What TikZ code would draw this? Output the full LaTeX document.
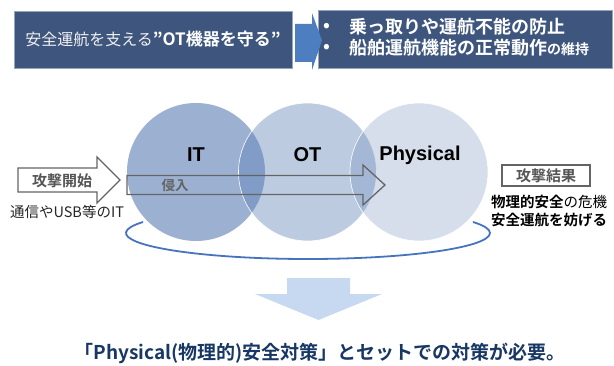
\documentclass[tikz,border=0pt]{standalone}
\usepackage{fontspec}
\setmainfont{Noto Sans CJK JP}[BoldFont={Noto Sans CJK JP Bold}]
\newfontfamily\labfont{Liberation Sans}
\definecolor{boxfill}{RGB}{62,86,126}
\definecolor{boxline}{RGB}{150,165,190}
\definecolor{arrowblue}{RGB}{76,126,192}
\definecolor{circblue}{RGB}{90,125,180}
\definecolor{outl}{RGB}{100,100,100}
\definecolor{txtgray}{RGB}{85,85,85}
\definecolor{arcblue}{RGB}{70,115,190}
\definecolor{downblue}{RGB}{198,217,240}
\definecolor{navy}{RGB}{23,55,100}
\begin{document}
\begin{tikzpicture}[x=1pt,y=1pt,
  topbox/.style={draw=boxline, fill=boxfill, line width=0.8pt, inner sep=0pt},
  circ/.style={circle, minimum size=138pt, inner sep=0pt, fill=circblue},
  hollow/.style={draw=outl, line width=1.3pt, line join=miter},
  circlabel/.style={font=\labfont\bfseries\fontsize{20}{22}\selectfont, text=black},
  graytxt/.style={text=txtgray, font=\bfseries\fontsize{15}{18}\selectfont}]
\useasboundingbox (0,0) rectangle (614,365);

% top boxes
\node[topbox, minimum width=278pt, minimum height=57pt] (goal) at (153,325.5)
  {{\fontsize{16}{18}\selectfont\color{white!88!gray}安全運航を支える}{\bfseries\fontsize{17}{18}\selectfont\color{white}”OT機器を守る”}};
\node[topbox, minimum width=294pt, minimum height=58pt] (aims) at (465,326) {};
\fill[arrowblue] (295,341) -- (312,341) -- (312,352) -- (322,324.5) -- (312,295) -- (312,303) -- (295,303) -- cycle;
\node[anchor=west, text=white, font=\bfseries\fontsize{18}{20}\selectfont, inner sep=0pt] (b1) at (323,338) {•};
\node[anchor=west, text=white, font=\bfseries\fontsize{18}{20}\selectfont, inner sep=0pt] (l1) at (349,338) {乗っ取りや運航不能の防止};
\node[anchor=west, text=white, font=\bfseries\fontsize{18}{20}\selectfont, inner sep=0pt] (b2) at (323,317) {•};
\node[anchor=west, text=white, font=\bfseries\fontsize{18}{20}\selectfont, inner sep=0pt] (l2) at (349,317) {船舶運航機能の正常動作{\fontsize{14}{16}\selectfont の維持}};

% circles
\node[circ, fill opacity=0.6] (it) at (196,193) {};
\node[circ, fill opacity=0.4, draw=white, line width=0.6pt] (ot) at (307.5,193) {};
\node[circ, fill opacity=0.25, draw=white, line width=0.6pt] (phys) at (419,193) {};

% intrusion arrow
\draw[hollow] (127,189.5) -- (363,189.5) -- (363,200) -- (385,180) -- (363,160) -- (363,170.5) -- (127,170.5) -- cycle;
\node[text=outl, font=\bfseries\fontsize{13.5}{15}\selectfont] (shin) at (175,180) {侵入};

\node[circlabel] (itl) at (196,210) {IT};
\node[circlabel] (otl) at (307.5,210) {OT};
\node[circlabel] (physl) at (420,210) {Physical};

% attack start arrow
\draw[hollow, fill=white] (18,197) -- (97,197) -- (97,208) -- (120,185) -- (97,162) -- (97,173) -- (18,173) -- cycle;
\node[graytxt] (start) at (62,184) {攻撃開始};
\node[font=\fontsize{14.5}{16}\selectfont, text=black!85] (via) at (67,153) {通信やUSB等のIT};

% attack result
\node[draw=outl, line width=1.3pt, minimum width=88pt, minimum height=21pt, inner sep=0pt, graytxt] (res) at (546,189.5) {攻撃結果};
\node[font=\fontsize{14.5}{16}\selectfont, text=black] (r1) at (549,163) {\textbf{物理的安全}の危機};
\node[font=\bfseries\fontsize{14.5}{16}\selectfont, text=black] (r2) at (549,145) {安全運航を妨げる};

% bottom arc
\draw[arcblue, line width=1.8pt] (308,132) ++(155:182 and 26) arc[start angle=155, end angle=385, x radius=182, y radius=26];

% down arrow
\fill[downblue] (287,87) -- (350,87) -- (350,71) -- (382,71) -- (318.5,45) -- (255,71) -- (287,71) -- cycle;

\node[text=navy, font=\bfseries\fontsize{19}{21}\selectfont] (concl) at (320,12) {「Physical(物理的)安全対策」とセットでの対策が必要。};
\end{tikzpicture}
\end{document}
